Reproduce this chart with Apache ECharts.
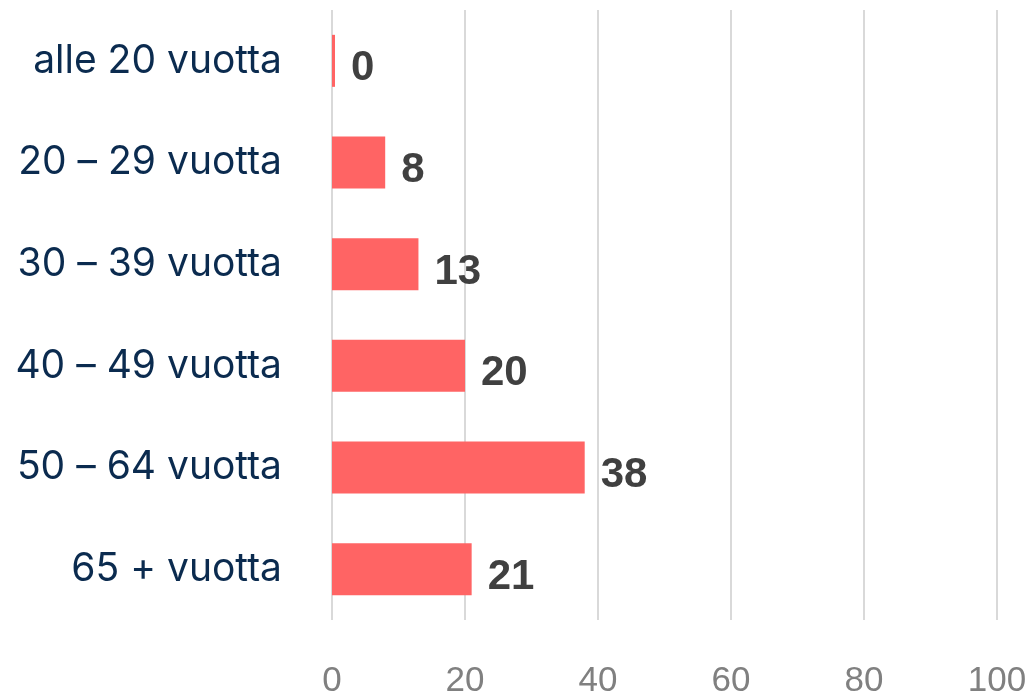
<!DOCTYPE html>
<html>
<head>
<meta charset="utf-8">
<script src="https://cdn.jsdelivr.net/npm/echarts@6/dist/echarts.min.js"></script>
<style>
  html, body { margin: 0; padding: 0; background: #ffffff; }
  #chart { width: 1032px; height: 699px; }
</style>
</head>
<body>
<div id="chart"></div>
<script>
// Age groups and their percentage shares
const categories = ['alle 20 vuotta', '20 – 29 vuotta', '30 – 39 vuotta', '40 – 49 vuotta', '50 – 64 vuotta', '65 + vuotta'];
const values = [0, 8, 13, 20, 38, 21];
const axisMin = 0;
const axisMax = 100;
const axisStep = 20;

const chart = echarts.init(document.getElementById('chart'), null, { renderer: 'canvas' });

chart.setOption({
  animation: false,
  backgroundColor: '#ffffff',
  grid: { left: 332, right: 35, top: 10, bottom: 68, containLabel: false },
  xAxis: {
    type: 'value',
    min: axisMin,
    max: axisMax,
    interval: axisStep,
    axisLine: { show: false },
    axisTick: { show: false },
    splitLine: { show: true, lineStyle: { color: '#d9d9d9', width: 2 } },
    axisLabel: {
      color: '#808080',
      fontSize: 35,
      fontFamily: 'Liberation Sans, Arial, sans-serif',
      margin: 44
    }
  },
  yAxis: {
    type: 'category',
    data: categories,
    inverse: true,
    axisLine: { show: false },
    axisTick: { show: false },
    splitLine: { show: false },
    axisLabel: {
      color: '#0b2b4f',
      fontSize: 39,
      fontFamily: 'Inter, sans-serif',
      margin: 50
    }
  },
  series: [{
    type: 'bar',
    data: values,
    barWidth: 52,
    barMinHeight: 3,
    itemStyle: { color: '#ff6464' },
    label: {
      show: true,
      position: 'right',
      distance: 16,
      offset: [0, 8],
      color: '#404040',
      fontSize: 42,
      fontWeight: 'bold',
      fontFamily: 'Liberation Sans, Arial, sans-serif'
    }
  }]
});
</script>
</body>
</html>
